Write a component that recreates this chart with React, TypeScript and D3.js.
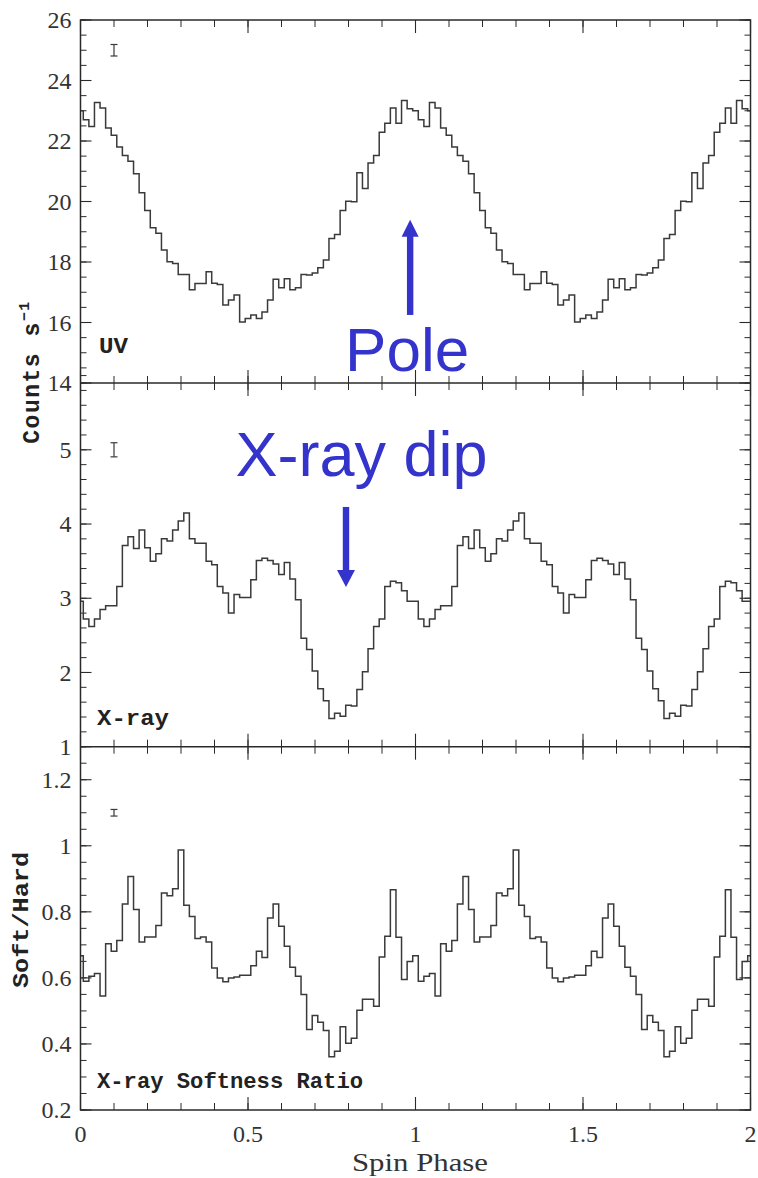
import React from 'react';
import * as d3 from 'd3';

// ---------- DATA (one spin cycle, 60 phase bins centred on k/60; the plot shows two cycles) ----------
const BINS_PER_CYCLE = 60;
const CYCLES = 2;

const uvCycle = [
  23.0, 22.7, 22.48, 23.27, 23.09, 22.43, 22.19, 21.8, 21.52, 21.33,
  20.92, 20.29, 19.7, 19.13, 18.95, 18.4, 18.01, 17.95, 17.59, 17.59,
  17.08, 17.29, 17.29, 17.68, 17.3, 17.26, 16.58, 16.74, 16.91, 16.02,
  16.13, 16.25, 16.13, 16.35, 16.74, 17.43, 17.15, 17.45, 17.08, 17.15,
  17.59, 17.57, 17.64, 17.81, 18.07, 18.78, 18.91, 19.7, 20.01, 19.99,
  20.95, 20.43, 21.27, 21.52, 22.29, 22.59, 23.09, 22.59, 23.34, 23.07,
];

const xrayCycle = [
  2.96, 2.72, 2.62, 2.72, 2.85, 2.9, 2.9, 3.16, 3.71, 3.83,
  3.67, 3.92, 3.68, 3.5, 3.6, 3.8, 3.77, 3.92, 4.04, 4.15,
  3.8, 3.74, 3.74, 3.5, 3.45, 3.16, 3.07, 2.8, 3.05, 3.01,
  3.01, 3.25, 3.51, 3.54, 3.51, 3.46, 3.32, 3.48, 3.26, 2.98,
  2.46, 2.31, 2.02, 1.78, 1.62, 1.38, 1.45, 1.41, 1.56, 1.55,
  1.77, 2.01, 2.32, 2.62, 2.72, 3.16, 3.23, 3.21, 3.1, 2.96,
];

const ratioCycle = [
  0.667, 0.59, 0.605, 0.613, 0.545, 0.703, 0.681, 0.713, 0.824, 0.907,
  0.807, 0.709, 0.724, 0.724, 0.759, 0.857, 0.849, 0.87, 0.987, 0.82,
  0.786, 0.719, 0.724, 0.709, 0.63, 0.6, 0.588, 0.6, 0.603, 0.608,
  0.608, 0.637, 0.681, 0.662, 0.781, 0.824, 0.756, 0.696, 0.632, 0.605,
  0.55, 0.444, 0.486, 0.466, 0.441, 0.361, 0.378, 0.452, 0.402, 0.417,
  0.502, 0.535, 0.535, 0.514, 0.663, 0.726, 0.867, 0.723, 0.595, 0.65,
];

// typical error bars drawn near phase 0.1
const errPhase = [0.1, 0.1, 0.1];
const errCentre = [25, 5, 1.1];
const errHalf = [0.19, 0.095, 0.01];

// axes
const phaseDomain = [0, 2];
const phaseMajorTicks = [0, 0.5, 1, 1.5, 2];
const phaseTickLabels = ['0', '0.5', '1', '1.5', '2'];
const phaseMinorStep = 0.1;

const uvDomain = [14, 26];
const uvMajorTicks = [14, 16, 18, 20, 22, 24, 26];
const uvTickLabels = ['14', '16', '18', '20', '22', '24', '26'];
const uvMinorStep = 0.5;

const xrayDomain = [1, 5.9];
const xrayMajorTicks = [1, 2, 3, 4, 5];
const xrayTickLabels = ['1', '2', '3', '4', '5'];
const xrayMinorStep = 0.2;

const ratioDomain = [0.2, 1.3];
const ratioMajorTicks = [0.2, 0.4, 0.6, 0.8, 1.0, 1.2];
const ratioTickLabels = ['0.2', '0.4', '0.6', '0.8', '1', '1.2'];
const ratioMinorStep = 0.05;

const panelNames = ['UV', 'X-ray', 'X-ray Softness Ratio'];

// annotations (phase, value in the panel's units)
const poleArrow = { phase: 0.984, from: 16.25, to: 19.4 };
const poleText = { phase: 0.975, value: 14.4, text: 'Pole' };
const dipArrow = { phase: 0.7925, from: 4.23, to: 3.15 };
const dipText = { phase: 0.839, value: 4.65, text: 'X-ray dip' };

// ---------- LAYOUT ----------
const W = 758;
const H = 1178;
const X0 = 80.5;
const X1 = 750.5;
const panelTop = [20, 383, 746.7];
const panelBottom = [383, 746.7, 1110];

const INK = '#2a2a2a';
const LINE = '#3a3a3a';
const BLUE = '#3434cc';

function minorTicks(domain: number[], step: number) {
  const out: number[] = [];
  const n = Math.round((domain[1] - domain[0]) / step);
  for (let i = 0; i <= n; i++) out.push(domain[0] + i * step);
  return out;
}

export default function App() {
  const x = d3.scaleLinear().domain(phaseDomain).range([X0, X1]);

  const panels = [
    { cycle: uvCycle, domain: uvDomain, major: uvMajorTicks, labels: uvTickLabels, minorStep: uvMinorStep },
    { cycle: xrayCycle, domain: xrayDomain, major: xrayMajorTicks, labels: xrayTickLabels, minorStep: xrayMinorStep },
    { cycle: ratioCycle, domain: ratioDomain, major: ratioMajorTicks, labels: ratioTickLabels, minorStep: ratioMinorStep },
  ].map((p, i) => ({
    ...p,
    y: d3.scaleLinear().domain(p.domain).range([panelBottom[i], panelTop[i]]),
  }));

  const xMinor = minorTicks(phaseDomain, phaseMinorStep);

  const fontTick = '"Liberation Serif", "DejaVu Serif", serif';
  const fontMono = '"Liberation Mono", "DejaVu Sans Mono", monospace';
  const fontBlue = '"Liberation Sans", Arial, sans-serif';

  const uvY = panels[0].y;
  const xrY = panels[1].y;

  return (
    <svg
      width={W}
      height={H}
      viewBox={`0 0 ${W} ${H}`}
      style={{ position: 'absolute', left: 0, top: 0, background: '#fff' }}
    >
      <rect x={0} y={0} width={W} height={H} fill="#fff" />
      {panels.map((p, i) => {
        const pts: [number, number][] = [];
        for (let c = 0; c < CYCLES; c++) {
          p.cycle.forEach((v, k) => pts.push([(c * BINS_PER_CYCLE + k) / BINS_PER_CYCLE, v]));
        }
        pts.push([CYCLES, p.cycle[0]]);
        const line = d3
          .line<[number, number]>()
          .x((d) => x(d[0]))
          .y((d) => p.y(d[1]))
          .curve(d3.curveStep);
        const top = panelTop[i];
        const bot = panelBottom[i];
        const yMinor = minorTicks(p.domain, p.minorStep);
        const ex = x(errPhase[i]);
        return (
          <g key={i}>
            {yMinor.map((t, j) => (
              <g key={'ym' + j}>
                <line x1={X0} x2={X0 + 6} y1={p.y(t)} y2={p.y(t)} stroke={INK} strokeWidth={1} />
                <line x1={X1} x2={X1 - 6} y1={p.y(t)} y2={p.y(t)} stroke={INK} strokeWidth={1} />
              </g>
            ))}
            {p.major.map((t, j) => (
              <g key={'yM' + j}>
                <line x1={X0} x2={X0 + 11} y1={p.y(t)} y2={p.y(t)} stroke={INK} strokeWidth={1.1} />
                <line x1={X1} x2={X1 - 11} y1={p.y(t)} y2={p.y(t)} stroke={INK} strokeWidth={1.1} />
                <text
                  x={X0 - 9}
                  y={p.y(t)}
                  dy="0.34em"
                  textAnchor="end"
                  fontFamily={fontTick}
                  fontSize={24}
                  fill="#333"
                >
                  {p.labels[j]}
                </text>
              </g>
            ))}
            {xMinor.map((t, j) => (
              <g key={'xm' + j}>
                <line x1={x(t)} x2={x(t)} y1={top} y2={top + 7} stroke={INK} strokeWidth={1} />
                <line x1={x(t)} x2={x(t)} y1={bot} y2={bot - 7} stroke={INK} strokeWidth={1} />
              </g>
            ))}
            {phaseMajorTicks.map((t, j) => (
              <g key={'xM' + j}>
                <line x1={x(t)} x2={x(t)} y1={top} y2={top + 13} stroke={INK} strokeWidth={1.1} />
                <line x1={x(t)} x2={x(t)} y1={bot} y2={bot - 13} stroke={INK} strokeWidth={1.1} />
              </g>
            ))}
            <path d={line(pts) || ''} fill="none" stroke={LINE} strokeWidth={1.5} />
            <g stroke={LINE} strokeWidth={1.2}>
              <line x1={ex} x2={ex} y1={p.y(errCentre[i] - errHalf[i])} y2={p.y(errCentre[i] + errHalf[i])} />
              <line x1={ex - 3.5} x2={ex + 3.5} y1={p.y(errCentre[i] - errHalf[i])} y2={p.y(errCentre[i] - errHalf[i])} />
              <line x1={ex - 3.5} x2={ex + 3.5} y1={p.y(errCentre[i] + errHalf[i])} y2={p.y(errCentre[i] + errHalf[i])} />
            </g>
          </g>
        );
      })}

      <rect x={X0} y={panelTop[0]} width={X1 - X0} height={panelBottom[2] - panelTop[0]} fill="none" stroke={INK} strokeWidth={1.5} />
      {panelBottom.slice(0, 2).map((b, i) => (
        <line key={i} x1={X0} x2={X1} y1={b} y2={b} stroke={INK} strokeWidth={1.5} />
      ))}

      {phaseMajorTicks.map((t, j) => (
        <text key={j} x={x(t)} y={1142} textAnchor="middle" fontFamily={fontTick} fontSize={24} fill="#333">
          {phaseTickLabels[j]}
        </text>
      ))}

      <text x={99} y={353} fontFamily={fontMono} fontWeight="bold" fontSize={22} fill="#222" textLength={29} lengthAdjust="spacingAndGlyphs">
        {panelNames[0]}
      </text>
      <text x={97} y={725} fontFamily={fontMono} fontWeight="bold" fontSize={22} fill="#222" textLength={72} lengthAdjust="spacingAndGlyphs">
        {panelNames[1]}
      </text>
      <text x={97} y={1088} fontFamily={fontMono} fontWeight="bold" fontSize={22} fill="#222" textLength={266} lengthAdjust="spacingAndGlyphs">
        {panelNames[2]}
      </text>

      <text
        transform={`translate(39,372) rotate(-90)`}
        textAnchor="middle"
        fontFamily={fontMono}
        fontWeight="bold"
        fontSize={23}
        letterSpacing={1.5}
        fill="#222"
      >
        Counts s<tspan fontSize={15} dy={-10}>−1</tspan>
      </text>
      <text
        transform={`translate(28,920) rotate(-90)`}
        textAnchor="middle"
        fontFamily={fontMono}
        fontWeight="bold"
        fontSize={22}
        fill="#222"
        textLength={136}
        lengthAdjust="spacingAndGlyphs"
      >
        Soft/Hard
      </text>
      <text x={420} y={1171} textAnchor="middle" fontFamily={fontTick} fontSize={25} fill="#333" textLength={136} lengthAdjust="spacingAndGlyphs">
        Spin Phase
      </text>

      <g fill={BLUE}>
        <rect
          x={x(poleArrow.phase) - 3.2}
          y={uvY(poleArrow.to) + 16}
          width={6.4}
          height={uvY(poleArrow.from) - uvY(poleArrow.to) - 16}
        />
        <polygon
          points={`${x(poleArrow.phase) - 8.5},${uvY(poleArrow.to) + 17} ${x(poleArrow.phase) + 8.5},${uvY(poleArrow.to) + 17} ${x(poleArrow.phase)},${uvY(poleArrow.to)}`}
        />
        <text x={x(poleText.phase)} y={uvY(poleText.value)} textAnchor="middle" fontFamily={fontBlue} fontSize={62}>
          {poleText.text}
        </text>
        <rect
          x={x(dipArrow.phase) - 3.2}
          y={xrY(dipArrow.from)}
          width={6.4}
          height={xrY(dipArrow.to) - xrY(dipArrow.from) - 16}
        />
        <polygon
          points={`${x(dipArrow.phase) - 9},${xrY(dipArrow.to) - 17} ${x(dipArrow.phase) + 9},${xrY(dipArrow.to) - 17} ${x(dipArrow.phase)},${xrY(dipArrow.to)}`}
        />
        <text x={x(dipText.phase)} y={xrY(dipText.value)} textAnchor="middle" fontFamily={fontBlue} fontSize={63}>
          {dipText.text}
        </text>
      </g>
    </svg>
  );
}
